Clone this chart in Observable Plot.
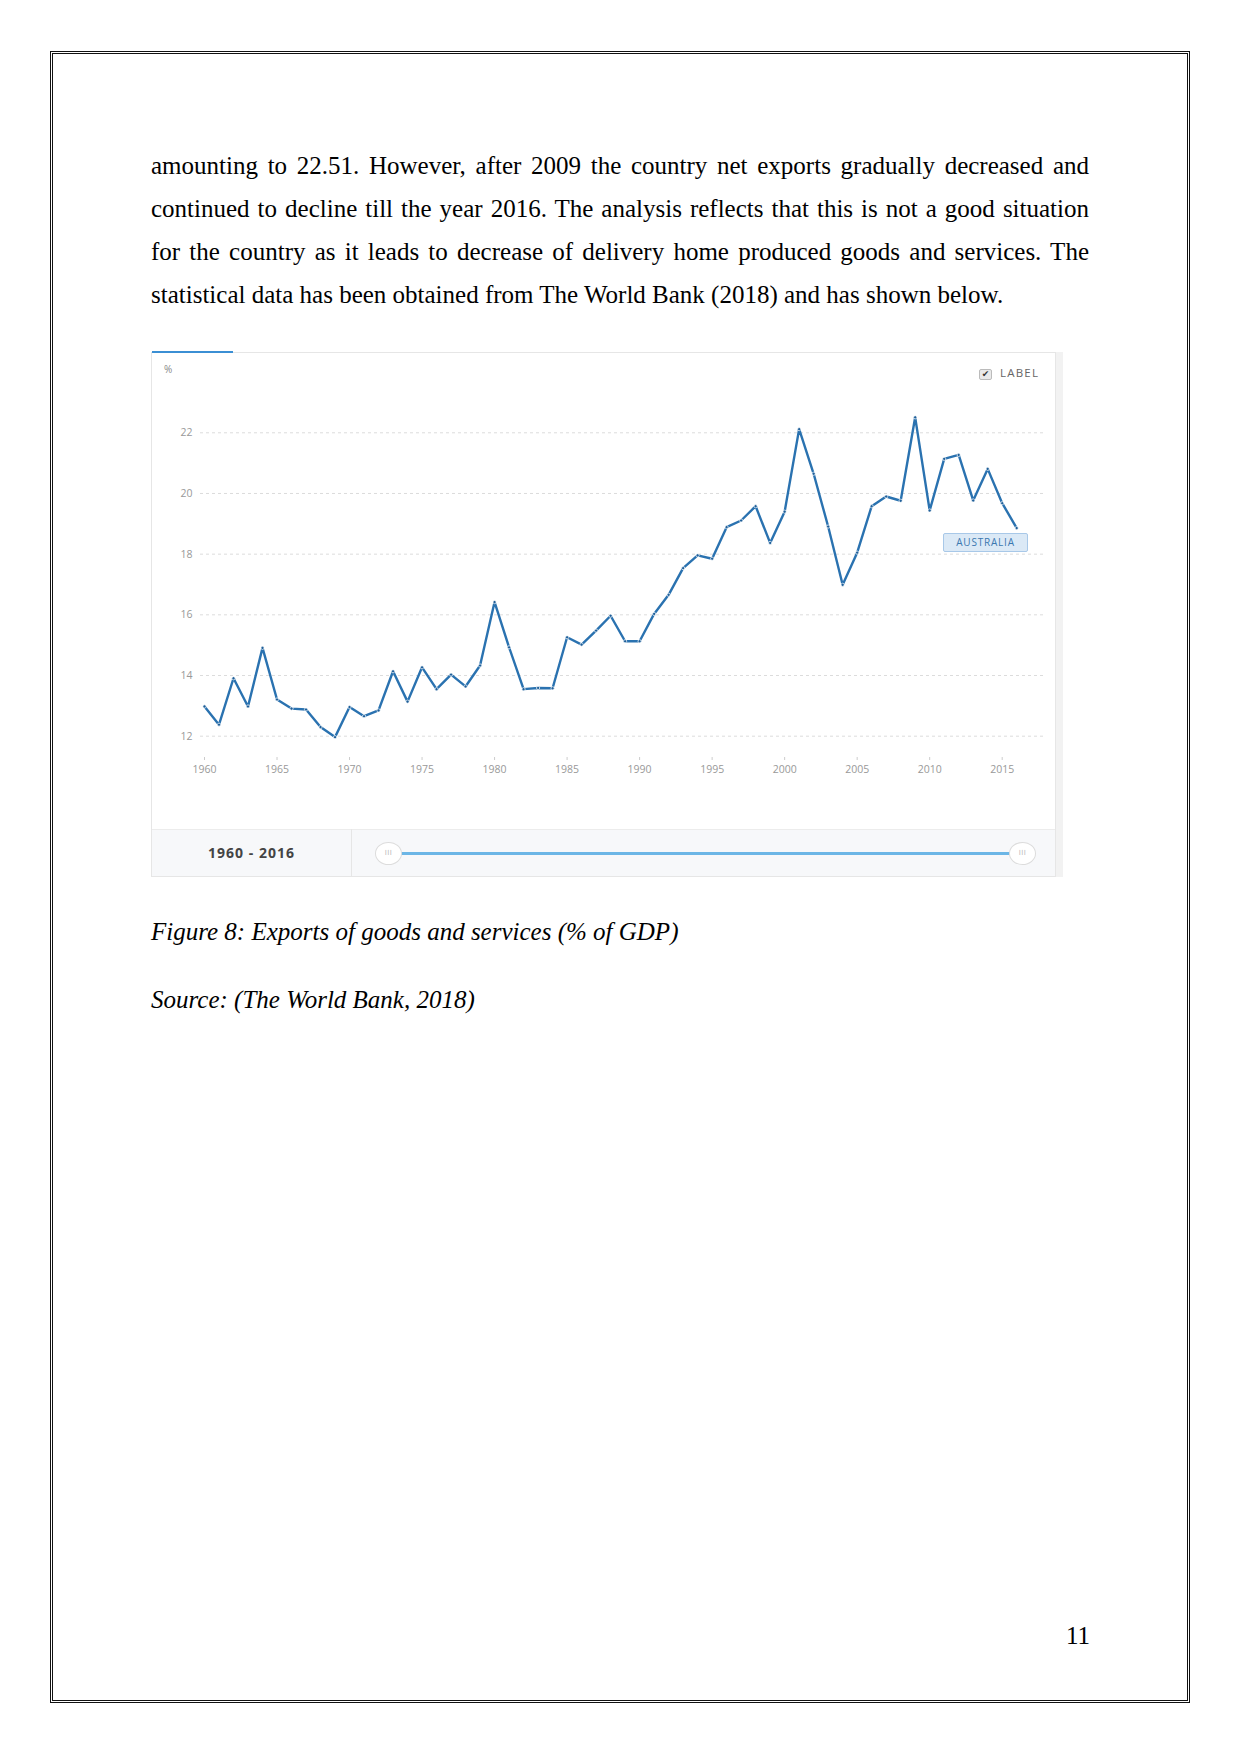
<!DOCTYPE html>
<html><head><meta charset="utf-8">
<script src="https://cdn.jsdelivr.net/npm/d3@7"></script>
<script src="https://cdn.jsdelivr.net/npm/@observablehq/plot@0.6"></script>
<style>
html,body{margin:0;padding:0;background:#fff}
body{width:1241px;height:1754px;position:relative;overflow:hidden;font-family:"Liberation Serif","Times New Roman",serif;color:#000}
.page{position:absolute;left:50px;top:51px;width:1140px;height:1652px;border:3px double #111;box-sizing:border-box}
.ln{position:absolute;left:151px;font-size:25px;line-height:30px;white-space:nowrap}
.cap{position:absolute;left:151px;font-size:25px;line-height:30px;font-style:italic;white-space:nowrap}
.box{position:absolute;left:151px;top:352px;width:905px;height:525px;border:1px solid #e6e6e6;box-sizing:border-box;box-shadow:7px 0 0 0 #f2f2f2;background:#fff}
.tab{position:absolute;left:152px;top:351px;width:81px;height:2px;background:#3b8fd4}
.pct{position:absolute;left:164px;top:362px;font:10px "Open Sans",sans-serif;color:#888}
.lbl{position:absolute;left:1000px;top:365px;font:11.5px "Open Sans",sans-serif;color:#666;letter-spacing:1.2px}
.chk{position:absolute;left:979px;top:369px;width:11px;height:9px;border:1px solid #bbb;border-radius:2px;background:#e9e9e9;font:9px "DejaVu Sans",sans-serif;line-height:9px;text-align:center;color:#333}
.aus{position:absolute;left:943px;top:533px;width:85px;height:19px;box-sizing:border-box;border:1px solid #a8c8e8;border-radius:2px;background:#dbe9f6;font:10px "Open Sans",sans-serif;letter-spacing:0.8px;color:#3b78b0;text-align:center;line-height:17px}
.slider{position:absolute;left:152px;top:829px;width:903px;height:47px;background:#f7f8fa;border-top:1px solid #ececec;box-sizing:border-box}
.divider{position:absolute;left:351px;top:829px;width:1px;height:47px;background:#e6e6e6}
.range{position:absolute;left:152px;top:843px;width:199px;text-align:center;font:700 14px "Open Sans",sans-serif;color:#444;letter-spacing:1px}
.track{position:absolute;left:398px;top:852px;width:614px;height:3px;background:#6cb6e6}
.handle{position:absolute;width:25px;height:21px;border:1px solid #dcdcdc;border-radius:50%;background:#fff;font:7px "DejaVu Sans",sans-serif;color:#bbb;text-align:center;line-height:21px;letter-spacing:0.5px}
#chart{position:absolute;left:152px;top:353px}
</style>
</head><body>
<div class="page"></div>

<div class="ln" style="top:151px" data-j="1">amounting to 22.51. However, after 2009 the country net exports gradually decreased and</div>
<div class="ln" style="top:194px" data-j="1">continued to decline till the year 2016. The analysis reflects that this is not a good situation</div>
<div class="ln" style="top:237px" data-j="1">for the country as it leads to decrease of delivery home produced goods and services. The</div>
<div class="ln" style="top:280px">statistical data has been obtained from The World Bank (2018) and has shown below.</div>

<div class="box"></div>
<div class="tab"></div>
<div class="pct">%</div>
<div class="chk">✔</div>
<div class="lbl">LABEL</div>
<div id="chart"></div>
<div class="aus">AUSTRALIA</div>
<div class="slider"></div>
<div class="divider"></div>
<div class="range">1960 - 2016</div>
<div class="track"></div>
<div class="handle" style="left:375px;top:842px">III</div>
<div class="handle" style="left:1009px;top:842px">III</div>

<div class="cap" style="top:917px">Figure 8: Exports of goods and services (% of GDP)</div>
<div class="cap" style="top:985px">Source: (The World Bank, 2018)</div>
<div class="ln" style="left:1066px;top:1621px">11</div>

<script>
// Data: Australia, exports of goods and services (% of GDP)
const years = d3.range(1960, 2017);
const exportsPct = [
  12.98, 12.38, 13.91, 12.98, 14.91, 13.21, 12.91, 12.88, 12.30, 11.97,
  12.96, 12.66, 12.85, 14.14, 13.14, 14.27, 13.55, 14.03, 13.64, 14.33,
  16.42, 14.93, 13.55, 13.59, 13.58, 15.26, 15.02, 15.48, 15.97, 15.13,
  15.13, 16.03, 16.66, 17.54, 17.96, 17.85, 18.89, 19.11, 19.58, 18.37,
  19.40, 22.12, 20.65, 18.91, 16.99, 18.05, 19.58, 19.90, 19.76, 22.51,
  19.44, 21.14, 21.27, 19.77, 20.81, 19.68, 18.86
];
const yTicks = [12, 14, 16, 18, 20, 22];
const xTicks = [1960, 1965, 1970, 1975, 1980, 1985, 1990, 1995, 2000, 2005, 2010, 2015];

const data = years.map((year, i) => ({year, value: exportsPct[i]}));

const chart = Plot.plot({
  width: 904,
  height: 476,
  marginLeft: 48,
  marginRight: 13,
  marginTop: 79,
  marginBottom: 72,
  style: {fontFamily: '"Open Sans", sans-serif', fontSize: "10.5px", color: "#999", background: "transparent", overflow: "visible"},
  x: {domain: [1960, 2016], range: [52, 864.2]},
  y: {domain: [12, 22], range: [382.7, 79.3]},
  marks: [
    Plot.ruleY(yTicks, {stroke: "#dcdcdc", strokeDasharray: "3,3"}),
    Plot.axisY({ticks: yTicks, tickSize: 0, tickPadding: 8, label: null}),
    Plot.axisX({ticks: xTicks, tickFormat: d => String(d), tickSize: 3, tickPadding: 5, stroke: "#ccc", label: null}),
    Plot.line(data, {x: "year", y: "value", stroke: "#2a72b0", strokeWidth: 2.4, curve: "linear"}),
    Plot.dot(data, {x: "year", y: "value", r: 1.6, fill: "#1f5f99", stroke: "#fff", strokeWidth: 0.7})
  ]
});
document.getElementById("chart").appendChild(chart);

// justify the first three body lines to the text block width
const W = 938;
document.querySelectorAll(".ln[data-j]").forEach(el => {
  const w = el.getBoundingClientRect().width;
  const spaces = (el.textContent.match(/ /g) || []).length;
  el.style.wordSpacing = ((W - w) / spaces) + "px";
});
</script>
</body></html>
